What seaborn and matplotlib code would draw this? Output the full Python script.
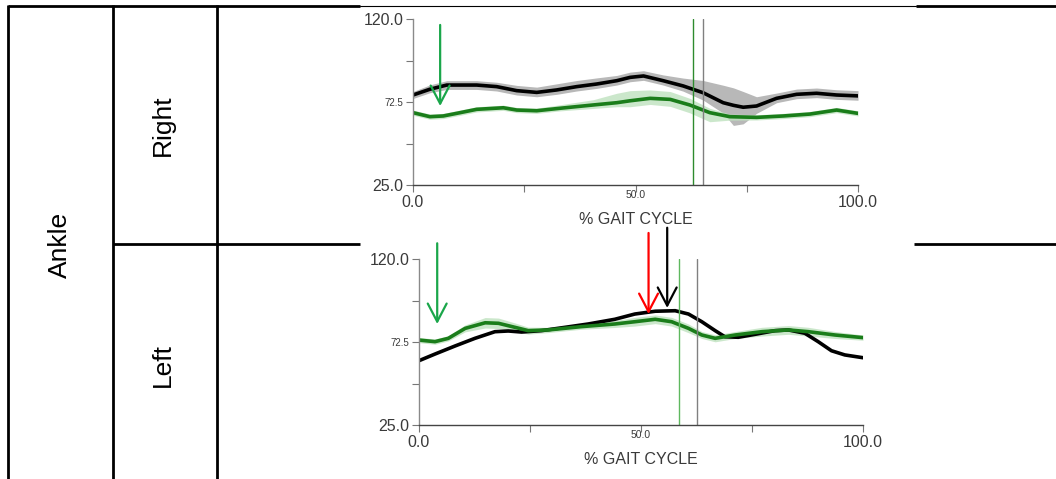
import numpy as np
import pandas as pd
import matplotlib
matplotlib.use("Agg")
import matplotlib.pyplot as plt
from matplotlib.lines import Line2D
import seaborn as sns

sns.set_style("white")
plt.rcParams['font.family'] = ['Liberation Sans', 'DejaVu Sans']

# ------------------------------------------
# DATA (% gait cycle vs ankle angle)
# ------------------------------------------
# Right side
r_black_x = [0, 3.8, 7.6, 14.3, 18.8, 23.3, 27.8, 32.3, 36.8, 41.3, 45.8, 48.8, 51.8, 56.2, 60.7, 65.2, 69.7, 72.0, 74.2, 77.2, 81.7, 86.2, 90.7, 95.2, 100]
r_black_y = [76.5, 79.8, 82.2, 82.2, 81.3, 79.0, 78.0, 79.4, 81.3, 82.8, 84.7, 86.6, 87.4, 84.7, 81.7, 77.8, 72.1, 70.6, 69.5, 70.2, 74.6, 76.9, 77.5, 76.5, 76.0]
r_black_up = [2, 2.5, 2.5, 2.5, 2.5, 3, 3, 3.5, 3.5, 3.5, 3, 3, 3, 3.3, 4.5, 7, 10, 10, 9, 5.3, 3, 3, 3, 3, 3]
r_black_lo = [2, 2, 2.5, 2.5, 2.5, 2.5, 2.5, 2.5, 2.5, 2.5, 2.5, 2.5, 2.5, 2.5, 3, 4.2, 6, 11.5, 9.5, 4.2, 2.5, 2.5, 2.5, 2.5, 2.5]

r_green_x = [0, 3.8, 6.8, 10.6, 14.3, 20.3, 23.3, 27.8, 33.0, 40.5, 45.8, 48.8, 53.3, 57.8, 62.2, 66.7, 71.2, 77.2, 83.2, 89.2, 95.2, 100]
r_green_y = [66.4, 64.1, 64.5, 66.4, 68.3, 69.2, 67.9, 67.5, 68.9, 70.8, 72.1, 73.2, 74.6, 74.0, 70.8, 66.4, 64.1, 63.7, 64.5, 65.6, 67.9, 66.0]
r_green_up = [1.5, 1.5, 1.5, 1.5, 1.5, 1.5, 1.5, 1.5, 2, 3, 5.4, 5.8, 4.8, 4.5, 3.8, 2.5, 1.5, 1.5, 1.5, 1.5, 1.5, 1.5]
r_green_lo = [1.5, 1.5, 1.5, 1.5, 1.5, 1.5, 1.5, 1.5, 1.5, 2, 2.3, 3.4, 3.5, 4, 4.5, 5.2, 2, 1.5, 1.5, 1.5, 1.5, 1.5]

# Left side
l_black_x = [0, 3.6, 8.1, 12.6, 17.1, 20.1, 23.1, 27.6, 32.9, 38.1, 44.1, 48.6, 53.2, 57.7, 60.7, 63.7, 66.7, 68.9, 71.9, 75.7, 80.2, 83.2, 86.9, 89.9, 92.9, 95.9, 100]
l_black_y = [61.8, 65.6, 70.2, 74.6, 78.4, 78.8, 78.2, 79.0, 80.9, 82.8, 85.5, 88.5, 90.1, 90.4, 88.5, 84.1, 79.0, 75.5, 75.2, 76.9, 79.0, 79.4, 77.5, 72.7, 67.5, 65.1, 63.5]

l_green_x = [0, 3.6, 6.6, 10.4, 14.9, 17.9, 21.6, 24.6, 29.1, 36.6, 44.1, 48.6, 53.2, 56.9, 60.7, 63.7, 66.7, 71.2, 77.2, 83.2, 87.7, 93.7, 100]
l_green_y = [73.6, 72.7, 74.6, 80.3, 83.5, 83.2, 80.9, 79.0, 79.4, 81.3, 82.8, 84.1, 85.5, 84.1, 80.3, 76.5, 74.6, 76.5, 78.4, 79.4, 78.4, 76.5, 75.0]
l_green_band = [1.5, 1.5, 1.5, 2, 3, 3, 2.5, 2, 1.5, 1.5, 2, 2.5, 2.5, 2.5, 2.5, 2, 2, 2, 2.5, 2.5, 2.5, 2, 1.5]

# event lines (toe-off) and arrows: x, start y, tip y, colour
r_events = [63.0, 65.2]
l_events = [58.6, 62.7]
r_arrows = [(6.1, 116.6, 70.2, '#1aa64a')]
l_arrows = [(4.1, 129.0, 82.8, '#1aa64a'), (51.7, 134.9, 88.5, '#ff0000'), (55.9, 137.9, 92.0, '#000000')]

row_labels = ['Right', 'Left']
joint_label = 'Ankle'

# ------------------------------------------
# FIGURE
# ------------------------------------------
W, H = 1056, 479
fig = plt.figure(figsize=(W / 100, H / 100), dpi=100)


def fx(px):
    return px / W


def fy(py):
    return 1 - py / H


# table grid
thick = dict(color='black', lw=2.0, solid_capstyle='butt')
fig.add_artist(Line2D([fx(8), fx(360)], [fy(6), fy(6)], **thick))
fig.add_artist(Line2D([fx(360), fx(916)], [fy(6), fy(6)], color='black', lw=0.8))
fig.add_artist(Line2D([fx(916), fx(1056)], [fy(6), fy(6)], **thick))
fig.add_artist(Line2D([fx(8), fx(8)], [fy(5), fy(479)], **thick))
fig.add_artist(Line2D([fx(113), fx(113)], [fy(5), fy(479)], **thick))
fig.add_artist(Line2D([fx(217), fx(217)], [fy(5), fy(479)], **thick))
fig.add_artist(Line2D([fx(113), fx(360)], [fy(244), fy(244)], **thick))
fig.add_artist(Line2D([fx(914), fx(1056)], [fy(244), fy(244)], **thick))

fig.text(fx(60), fy(245), joint_label, rotation=90, ha='center', va='center', fontsize=19, color='black')
fig.text(fx(163), fy(125), row_labels[0], rotation=90, ha='center', va='center', fontsize=19, color='black')
fig.text(fx(163), fy(365), row_labels[1], rotation=90, ha='center', va='center', fontsize=19, color='black')

ax_r = fig.add_axes([fx(413), fy(185), fx(445), 166 / H])
ax_l = fig.add_axes([fx(419), fy(425), fx(444), 166 / H])

GREEN = '#1a7d1a'
txt = '#3a3a3a'


def style_axes(ax):
    ax.set_xlim(0, 100)
    ax.set_ylim(25, 120)
    ax.set_facecolor('none')
    for s in ['top', 'right']:
        ax.spines[s].set_visible(False)
    ax.spines['left'].set_color('#8a8a8a')
    ax.spines['bottom'].set_color('#444444')
    ax.spines['left'].set_linewidth(1.0)
    ax.spines['bottom'].set_linewidth(1.0)
    ax.set_yticks([25, 48.75, 72.5, 96.25, 120])
    ax.set_yticklabels(['25.0', '', '72.5', '', '120.0'])
    ax.set_xticks([0, 25, 50, 75, 100])
    ax.set_xticklabels(['0.0', '', '', '', '100.0'])
    ax.tick_params(axis='both', direction='out', length=5, width=0.8,
                   bottom=True, left=True,
                   colors='#777777', labelcolor=txt, labelsize=11.5, pad=2)
    for lab in ax.get_yticklabels():
        if lab.get_text() == '72.5':
            lab.set_fontsize(7)
    ax.text(50, -0.03, '50.0', transform=ax.get_xaxis_transform(),
            ha='center', va='top', fontsize=7.5, color=txt)
    ax.set_xlabel('% GAIT CYCLE', fontsize=11.5, color=txt, labelpad=2)
    ax.set_ylabel('')


def draw_arrows(ax, arrows):
    for x, y0, y1, c in arrows:
        ax.annotate('', xy=(x, y1), xytext=(x, y0), annotation_clip=False,
                    arrowprops=dict(arrowstyle='->,head_length=0.65,head_width=0.34',
                                    color=c, lw=1.6, mutation_scale=20,
                                    shrinkA=0, shrinkB=0))


# Right
bx = np.array(r_black_x)
by = np.array(r_black_y)
ax_r.fill_between(bx, by + np.array(r_black_up), by - np.array(r_black_lo), color='#b8b8b8', lw=0)
gx = np.array(r_green_x)
gy = np.array(r_green_y)
ax_r.fill_between(gx, gy + np.array(r_green_up), gy - np.array(r_green_lo), color='#bfe2bf', alpha=0.8, lw=0)
sns.lineplot(x=r_black_x, y=r_black_y, ax=ax_r, color='black', lw=2.6)
sns.lineplot(x=r_green_x, y=r_green_y, ax=ax_r, color=GREEN, lw=2.6)
ax_r.axvline(r_events[0], color='#2e8b2e', lw=1.0)
ax_r.axvline(r_events[1], color='#808080', lw=1.0)
style_axes(ax_r)
draw_arrows(ax_r, r_arrows)

# Left
gx = np.array(l_green_x)
gy = np.array(l_green_y)
gb = np.array(l_green_band)
ax_l.fill_between(gx, gy + gb, gy - gb, color='#bfe2bf', alpha=0.8, lw=0)
sns.lineplot(x=l_black_x, y=l_black_y, ax=ax_l, color='black', lw=2.6)
sns.lineplot(x=l_green_x, y=l_green_y, ax=ax_l, color=GREEN, lw=2.6)
ax_l.axvline(l_events[0], color='#5fb85f', lw=1.0)
ax_l.axvline(l_events[1], color='#808080', lw=1.0)
style_axes(ax_l)
draw_arrows(ax_l, l_arrows)

fig.savefig('out.png', dpi=100)
